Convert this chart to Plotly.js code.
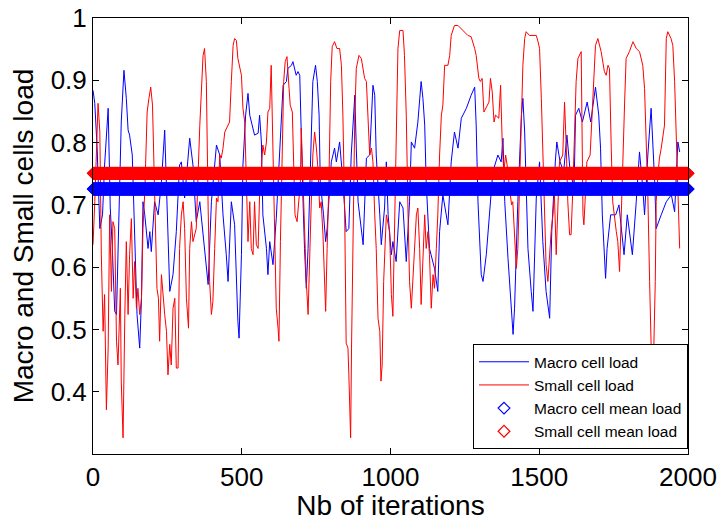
<!DOCTYPE html>
<html>
<head>
<meta charset="utf-8">
<script src="https://cdn.plot.ly/plotly-3.0.1.min.js"></script>
<style>html,body{margin:0;padding:0;background:#fff;}#chart{width:721px;height:521px;}</style>
</head>
<body>
<div id="chart"></div>
<script>
// Macro cell load (at turning points)
var macroIter = [
0,6,14,23,32,39,51,58,65,73,
79,88,95,104,112,118,123,132,140,148,
157,163,168,174,185,191,196,207,219,230,
241,247,252,258,269,280,291,297,308,325,
336,347,359,370,381,387,398,415,426,437,
448,454,465,476,487,491,
499,504,513,521,527,532,543,555,560,566,
571,583,588,594,605,616,627,633,639,650,
655,667,672,683,689,695,700,706,711,717,
723,728,734,739,748,754,760,764,775,782,
787,793,801,812,818,829,840,851,860,868,
880,885,891,908,913,919,930,936,941,947,
952,964,969,980,986,992,
1003,1008,1019,1031,1042,1053,1064,1070,1081,1092,
1103,1109,1115,1120,1131,1148,1159,1165,1176,1193,
1204,1215,1227,1238,1255,1271,1283,1288,1294,1305,
1311,1322,1333,1344,1361,1372,1378,1384,1395,1406,
1412,1417,1428,1440,1445,1451,1462,1473,1479,1490,
1501,1512,1523,1535,1542,1554,1559,1570,1582,1593,
1604,1617,1622,1633,1645,1661,1673,1689,1700,1706,
1712,1723,1728,1740,1757,1768,1785,1796,1813,1826,
1837,1848,1854,1865,1876,1888,1893,1910,1927,1944,
1955,1966,1972];
var macroLoad = [
0.884,0.863,0.79,0.662,0.684,0.764,0.855,0.695,0.63,0.529,
0.524,0.684,0.833,0.916,0.871,0.82,0.812,0.78,0.63,0.524,
0.47,0.55,0.705,0.684,0.63,0.657,0.625,0.705,0.684,0.737,
0.82,0.737,0.641,0.561,0.588,0.657,0.764,0.769,0.711,0.807,
0.764,0.673,0.705,0.657,0.609,0.572,0.705,0.796,0.78,0.684,
0.62,0.577,0.705,0.668,0.513,0.486,
0.62,0.764,0.844,0.879,0.844,0.833,0.812,0.815,0.844,0.801,
0.684,0.63,0.588,0.641,0.604,0.678,0.78,0.855,0.892,0.898,
0.919,0.924,0.93,0.908,0.914,0.908,0.791,0.705,0.63,0.566,
0.63,0.705,0.817,0.898,0.924,0.898,0.844,0.737,0.684,0.641,
0.662,0.705,0.769,0.791,0.769,0.801,0.737,0.657,0.662,0.78,
0.876,0.791,0.705,0.636,0.716,0.775,0.78,0.833,0.892,0.876,
0.78,0.684,0.636,0.695,0.769,0.684,
0.62,0.641,0.609,0.705,0.695,0.609,0.705,0.801,0.791,0.833,
0.898,0.871,0.828,0.737,0.63,0.598,0.561,0.657,0.716,0.668,
0.769,0.817,0.791,0.839,0.855,0.876,0.889,0.828,0.705,0.588,
0.577,0.62,0.684,0.753,0.78,0.769,0.807,0.705,0.614,0.524,
0.492,0.534,0.705,0.844,0.871,0.817,0.63,0.561,0.529,0.711,
0.769,0.641,0.561,0.518,0.657,0.769,0.801,0.769,0.753,0.812,
0.753,0.727,0.844,0.855,0.833,0.865,0.833,0.889,0.844,0.791,
0.684,0.582,0.63,0.684,0.684,0.70,0.62,0.684,0.62,0.705,
0.785,0.727,0.684,0.78,0.855,0.737,0.662,0.684,0.705,0.716,
0.689,0.801,0.785];

// Small cell load
var smallIter = [
0,6,17,23,28,34,39,45,51,56,
62,67,73,79,84,92,95,101,107,112,
118,123,129,135,140,146,151,157,163,168,
174,182,188,194,200,205,211,215,220,224,
230,235,241,247,252,258,263,269,275,280,
286,291,297,303,308,314,321,325,331,336,
347,359,364,370,375,381,387,392,398,403,
409,415,420,426,431,437,443,454,459,465,
471,476,482,487,499,
504,510,515,521,527,532,538,543,549,555,
560,566,571,577,583,588,594,599,605,611,
616,622,625,630,636,641,646,652,659,663,
670,674,679,686,690,697,700,706,711,717,
723,728,734,739,745,751,756,762,767,773,
779,782,787,793,799,804,812,820,829,835,
840,846,851,857,860,866,869,874,880,885,
894,902,913,919,924,930,936,941,947,952,
958,964,968,972,977,986,997,
1003,1008,1014,1019,1025,1031,1042,1047,1053,1059,
1064,1070,1075,1081,1087,1092,1098,1103,1109,1115,
1120,1126,1131,1137,1143,1148,1154,1159,1165,1171,
1176,1182,1193,1199,1204,1215,1227,1238,1249,1260,
1271,1277,1283,1288,1294,1297,1302,1308,1314,1325,
1331,1336,1342,1348,1353,1364,1370,1376,1381,1387,
1392,1400,1407,1411,1417,1423,1428,1434,1440,1445,
1451,1456,1467,1479,1490,1496,
1501,1507,1512,1518,1523,1529,1535,1540,1546,1551,
1557,1563,1568,1579,1585,1591,1596,1602,1607,1613,
1619,1624,1630,1641,1647,1650,1654,1660,1671,1677,
1684,1689,1697,1708,1719,1725,1731,1736,1742,1747,
1759,1764,1770,1775,1781,1787,1792,1803,1815,1826,
1837,1848,1854,1859,1865,1871,1876,1882,1885,1890,
1893,1899,1904,1910,1921,1927,1932,1943,1949,1955,
1960,1966,1969,1972];
var smallLoad = [
0.636,0.705,0.863,0.817,0.62,0.497,0.556,0.371,0.47,0.684,
0.561,0.673,0.662,0.481,0.443,0.566,0.417,0.326,0.524,0.641,
0.524,0.62,0.678,0.55,0.609,0.534,0.566,0.524,0.55,0.662,
0.72,0.849,0.871,0.889,0.86,0.748,0.62,0.566,0.55,0.481,
0.588,0.556,0.524,0.497,0.427,0.476,0.443,0.534,0.55,0.438,
0.438,0.63,0.684,0.705,0.662,0.55,0.502,0.63,0.673,0.641,
0.662,0.828,0.881,0.94,0.951,0.898,0.695,0.577,0.524,0.545,
0.63,0.711,0.705,0.78,0.775,0.791,0.817,0.828,0.833,0.898,
0.956,0.967,0.964,0.935,0.908,
0.855,0.833,0.748,0.641,0.705,0.63,0.62,0.705,0.636,0.63,
0.716,0.769,0.796,0.78,0.801,0.849,0.855,0.924,0.78,0.662,
0.534,0.502,0.481,0.641,0.764,0.898,0.93,0.938,0.887,0.86,
0.849,0.753,0.684,0.673,0.695,0.737,0.823,0.727,0.684,0.577,
0.524,0.63,0.711,0.78,0.817,0.791,0.759,0.695,0.705,0.652,
0.561,0.529,0.63,0.737,0.898,0.954,0.962,0.951,0.951,0.924,
0.844,0.684,0.478,0.47,0.427,0.326,0.47,0.684,0.844,0.919,
0.94,0.935,0.903,0.898,0.844,0.78,0.791,0.769,0.684,0.63,
0.518,0.497,0.417,0.443,0.577,0.684,0.657,
0.556,0.521,0.684,0.844,0.951,0.98,0.98,0.94,0.844,0.684,
0.577,0.534,0.577,0.63,0.684,0.695,0.63,0.54,0.63,0.684,
0.63,0.657,0.62,0.534,0.588,0.566,0.63,0.684,0.78,0.844,
0.86,0.924,0.924,0.94,0.972,0.988,0.988,0.983,0.978,0.972,
0.97,0.962,0.951,0.94,0.919,0.903,0.898,0.903,0.849,0.86,
0.865,0.903,0.881,0.833,0.844,0.839,0.892,0.791,0.753,0.78,
0.764,0.727,0.70,0.705,0.657,0.598,0.63,0.737,0.844,0.924,
0.967,0.978,0.972,0.972,0.972,0.962,
0.951,0.871,0.791,0.684,0.604,0.577,0.63,0.657,0.684,0.716,
0.62,0.705,0.769,0.78,0.865,0.791,0.705,0.652,0.652,0.727,
0.833,0.898,0.935,0.946,0.684,0.668,0.705,0.769,0.78,0.844,
0.898,0.956,0.967,0.946,0.914,0.908,0.924,0.919,0.791,0.705,
0.657,0.641,0.593,0.684,0.764,0.865,0.935,0.946,0.962,0.951,
0.946,0.924,0.887,0.817,0.716,0.577,0.476,0.465,0.47,0.577,
0.705,0.748,0.775,0.791,0.828,0.967,0.978,0.967,0.956,0.898,
0.828,0.737,0.695,0.63];

// Mean loads
var macroMean = 0.7255;
var smallMean = 0.7506;
var nIterations = 2000;

var xTickVals = [0, 500, 1000, 1500, 2000];
var yTickVals = [0.4, 0.5, 0.6, 0.7, 0.8, 0.9, 1];
var yTickText = ['0.4', '0.5', '0.6', '0.7', '0.8', '0.9', '1'];

var meanIter = [], macroMeanArr = [], smallMeanArr = [];
for (var i = 1; i <= nIterations; i++) {
  meanIter.push(i); macroMeanArr.push(macroMean); smallMeanArr.push(smallMean);
}

var FONT = 'Liberation Sans, Arial, Helvetica, sans-serif';

var traces = [
  {x: macroIter, y: macroLoad, type: 'scatter', mode: 'lines', name: 'Macro cell load',
   line: {color: '#0000ff', width: 1}},
  {x: smallIter, y: smallLoad, type: 'scatter', mode: 'lines', name: 'Small cell load',
   line: {color: '#ff0000', width: 1}},
  {x: meanIter, y: macroMeanArr, type: 'scatter', mode: 'markers', name: 'Macro cell mean load',
   cliponaxis: false,
   marker: {symbol: 'diamond-open', size: 9, color: '#0000ff', line: {color: '#0000ff', width: 1.2}}},
  {x: meanIter, y: smallMeanArr, type: 'scatter', mode: 'markers', name: 'Small cell mean load',
   cliponaxis: false,
   marker: {symbol: 'diamond-open', size: 9, color: '#ff0000', line: {color: '#ff0000', width: 1.2}}}
];

var axisCommon = {
  showline: true, linecolor: '#000', linewidth: 1, mirror: 'ticks',
  ticks: 'inside', ticklen: 6, tickwidth: 1, tickcolor: '#000',
  showgrid: false, zeroline: false,
  tickfont: {family: FONT, size: 26, color: '#000'}
};

var layout = {
  width: 721, height: 521,
  margin: {l: 93, r: 33, t: 18, b: 67, pad: 0},
  paper_bgcolor: '#fff', plot_bgcolor: '#fff',
  font: {family: FONT, color: '#000'},
  showlegend: true,
  xaxis: Object.assign({}, axisCommon, {
    range: [0, 2000], tickvals: xTickVals,
    title: {text: 'Nb of iterations', font: {family: FONT, size: 28, color: '#000'}, standoff: 4}
  }),
  yaxis: Object.assign({}, axisCommon, {
    range: [0.3, 1], tickvals: yTickVals, ticktext: yTickText,
    title: {text: 'Macro and Small cells load', font: {family: FONT, size: 28, color: '#000'}, standoff: 8}
  }),
  legend: {
    x: 1, xanchor: 'right', y: 0.011, yanchor: 'bottom',
    bgcolor: '#fff', bordercolor: '#000', borderwidth: 1,
    font: {family: FONT, size: 15.5, color: '#000'},
    itemwidth: 50, tracegroupgap: 0
  }
};

Plotly.newPlot('chart', traces, layout, {staticPlot: true, displayModeBar: false});
</script>
</body>
</html>
